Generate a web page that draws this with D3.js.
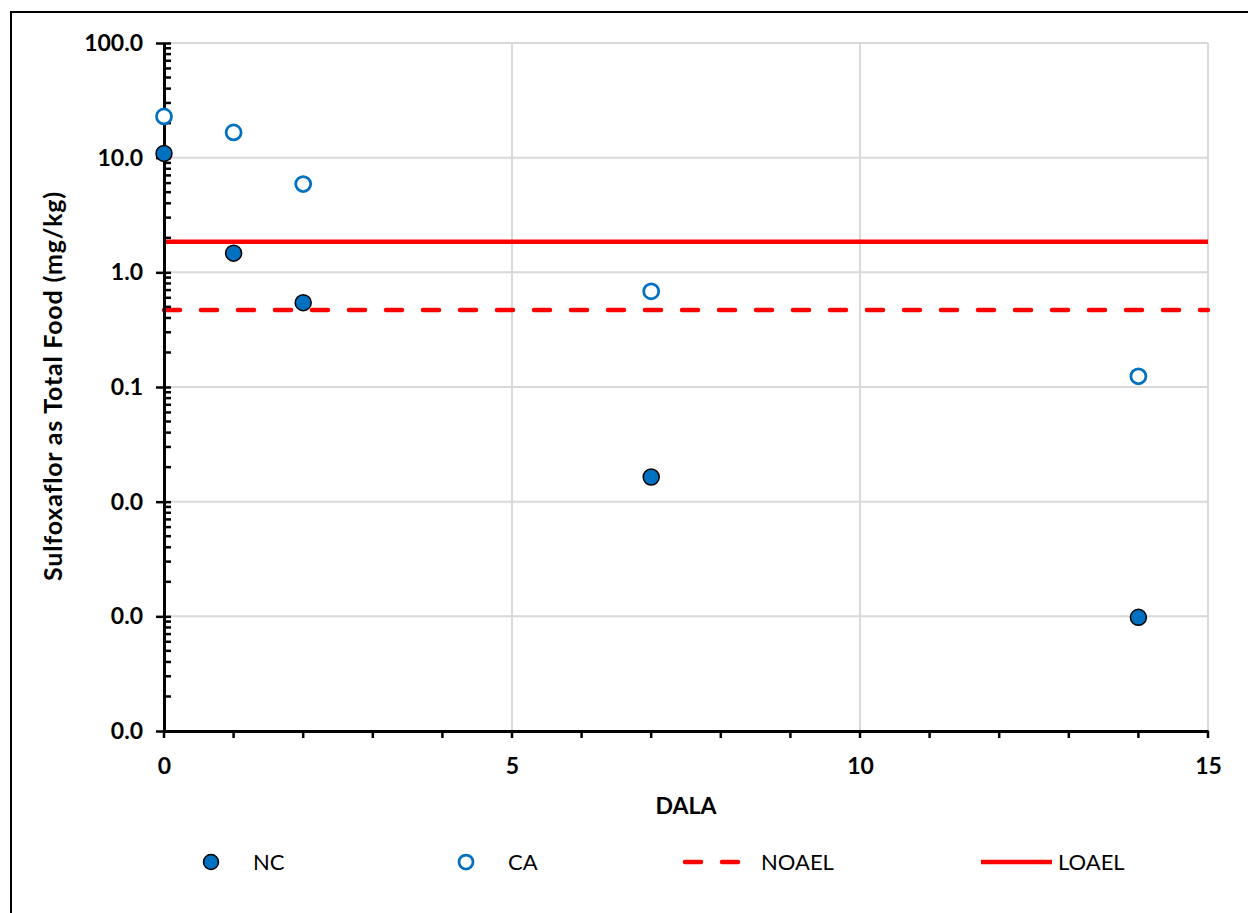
<!DOCTYPE html>
<html>
<head>
<meta charset="utf-8">
<script src="https://cdn.jsdelivr.net/npm/d3@7"></script>
<style>
  html, body { margin: 0; padding: 0; background: #fff; }
  svg { display: block; }
  text { font-family: Lato, "Open Sans", sans-serif; }
</style>
</head>
<body>
<svg id="chart" width="1248" height="913"></svg>
<script>
// Days after last application (DALA)
const dala = [0, 1, 2, 7, 14];
// Sulfoxaflor residues, total food (mg/kg)
const ncValues = [10.9, 1.47, 0.544, 0.0164, 0.00098];
const caValues = [22.9, 16.6, 5.89, 0.683, 0.124];
// Reference levels (mg/kg)
const noael = 0.469;
const loael = 1.85;
// Axis ticks
const yMajorTicks = [0.0001, 0.001, 0.01, 0.1, 1, 10, 100];
const xMajorTicks = [0, 5, 10, 15];
const xMinorTicks = d3.range(0, 16);
const legendItems = ["NC", "CA", "NOAEL", "LOAEL"];

const blue = "#0070C0";
const red = "#FF0000";
const grid = "#d9d9d9";
const font = "Lato, 'Open Sans', sans-serif";

const svg = d3.select("#chart");

// Outer frame
svg.append("rect")
  .attr("x", 11).attr("y", 12)
  .attr("width", 1260).attr("height", 930)
  .attr("fill", "none").attr("stroke", "#000").attr("stroke-width", 2);

const plotLeft = 164, plotRight = 1208, plotTop = 43, plotBottom = 731;
const x = d3.scaleLinear().domain([0, 15]).range([plotLeft, plotRight]);
const y = d3.scaleLog().domain([0.0001, 100]).range([plotBottom, plotTop]);

// Minor ticks of the log axis: 2..9 within each decade
const yMinorTicks = [];
yMajorTicks.slice(0, -1).forEach(d => {
  for (let k = 2; k <= 9; k++) yMinorTicks.push(+(d * k).toPrecision(3));
});

// Gridlines
const g = svg.append("g");
g.selectAll("line.hgrid").data(yMajorTicks.filter(d => d !== 0.0001)).join("line")
  .attr("class", "hgrid")
  .attr("x1", plotLeft).attr("x2", x(15))
  .attr("y1", d => y(d)).attr("y2", d => y(d))
  .attr("stroke", grid).attr("stroke-width", 2);
g.selectAll("line.vgrid").data(xMajorTicks.filter(d => d !== 0)).join("line")
  .attr("class", "vgrid")
  .attr("x1", d => x(d)).attr("x2", d => x(d))
  .attr("y1", plotTop).attr("y2", plotBottom)
  .attr("stroke", grid).attr("stroke-width", 2);

// Reference lines
svg.append("line")
  .attr("x1", x(0)).attr("x2", x(15))
  .attr("y1", y(noael)).attr("y2", y(noael))
  .attr("stroke", red).attr("stroke-width", 4.5)
  .attr("stroke-linecap", "round")
  .attr("stroke-dasharray", "16 21");
svg.append("line")
  .attr("x1", x(0)).attr("x2", x(15))
  .attr("y1", y(loael)).attr("y2", y(loael))
  .attr("stroke", red).attr("stroke-width", 4.5);

// Y axis
const yAxis = svg.append("g")
  .attr("transform", `translate(${plotLeft},0)`)
  .call(d3.axisLeft(y).tickValues(yMajorTicks)
    .tickFormat(d3.format(".1f")).tickSizeInner(8).tickSizeOuter(0).tickPadding(13));
yAxis.select(".domain").attr("stroke", "#000").attr("stroke-width", 3);
yAxis.selectAll(".tick line").attr("stroke", "#000").attr("stroke-width", 2.5)
  .attr("x1", 7);
yAxis.selectAll(".tick text")
  .attr("font-size", 23).attr("font-weight", "bold").attr("fill", "#000")
  .attr("font-family", font);
yAxis.selectAll("line.minor").data(yMinorTicks).join("line")
  .attr("class", "minor")
  .attr("x1", 0).attr("x2", 7)
  .attr("y1", d => y(d)).attr("y2", d => y(d))
  .attr("stroke", "#000").attr("stroke-width", 2.5);

// X axis
const xAxis = svg.append("g")
  .attr("transform", `translate(0,${plotBottom})`)
  .call(d3.axisBottom(x).tickValues(xMajorTicks)
    .tickFormat(d3.format("d")).tickSizeInner(0).tickSizeOuter(0).tickPadding(27));
xAxis.select(".domain").attr("stroke", "#000").attr("stroke-width", 3);
xAxis.selectAll(".tick text")
  .attr("font-size", 23).attr("font-weight", "bold").attr("fill", "#000")
  .attr("font-family", font);
xAxis.selectAll("line.minor").data(xMinorTicks).join("line")
  .attr("class", "minor")
  .attr("x1", d => x(d)).attr("x2", d => x(d))
  .attr("y1", 0).attr("y2", 7)
  .attr("stroke", "#000").attr("stroke-width", 2.5);

// Axis titles
svg.append("text")
  .attr("x", x(7.5)).attr("y", 814)
  .attr("text-anchor", "middle")
  .attr("font-size", 23).attr("font-weight", "bold")
  .text("DALA");
svg.append("text")
  .attr("transform", `translate(62,${(plotTop + plotBottom) / 2 - 1}) rotate(-90)`)
  .attr("text-anchor", "middle")
  .attr("font-size", 25).attr("font-weight", "bold")
  .attr("letter-spacing", 0.8)
  .text("Sulfoxaflor as Total Food (mg/kg)");

// Data points
svg.append("g").selectAll("circle").data(dala.map((d, i) => [d, caValues[i]])).join("circle")
  .attr("cx", d => x(d[0])).attr("cy", d => y(d[1]))
  .attr("r", 7.5).attr("fill", "#fff")
  .attr("stroke", blue).attr("stroke-width", 2.75);
svg.append("g").selectAll("circle").data(dala.map((d, i) => [d, ncValues[i]])).join("circle")
  .attr("cx", d => x(d[0])).attr("cy", d => y(d[1]))
  .attr("r", 8).attr("fill", blue)
  .attr("stroke", "#000").attr("stroke-width", 1.5);

// Legend
const ly = 862;
const leg = svg.append("g");
leg.append("circle").attr("cx", 211).attr("cy", ly).attr("r", 7.5)
  .attr("fill", blue).attr("stroke", "#000").attr("stroke-width", 1.5);
leg.append("circle").attr("cx", 466).attr("cy", ly).attr("r", 7)
  .attr("fill", "#fff").attr("stroke", blue).attr("stroke-width", 2.75);
leg.append("line").attr("x1", 685).attr("x2", 739).attr("y1", ly).attr("y2", ly)
  .attr("stroke", red).attr("stroke-width", 4.5).attr("stroke-linecap", "round")
  .attr("stroke-dasharray", "16 21");
leg.append("line").attr("x1", 981).attr("x2", 1052).attr("y1", ly).attr("y2", ly)
  .attr("stroke", red).attr("stroke-width", 4.5);
const legX = [253, 508, 761, 1058];
leg.selectAll("text").data(legendItems).join("text")
  .attr("x", (d, i) => legX[i]).attr("y", ly)
  .attr("dy", "0.36em")
  .attr("font-size", 22)
  .text(d => d);
</script>
</body>
</html>
